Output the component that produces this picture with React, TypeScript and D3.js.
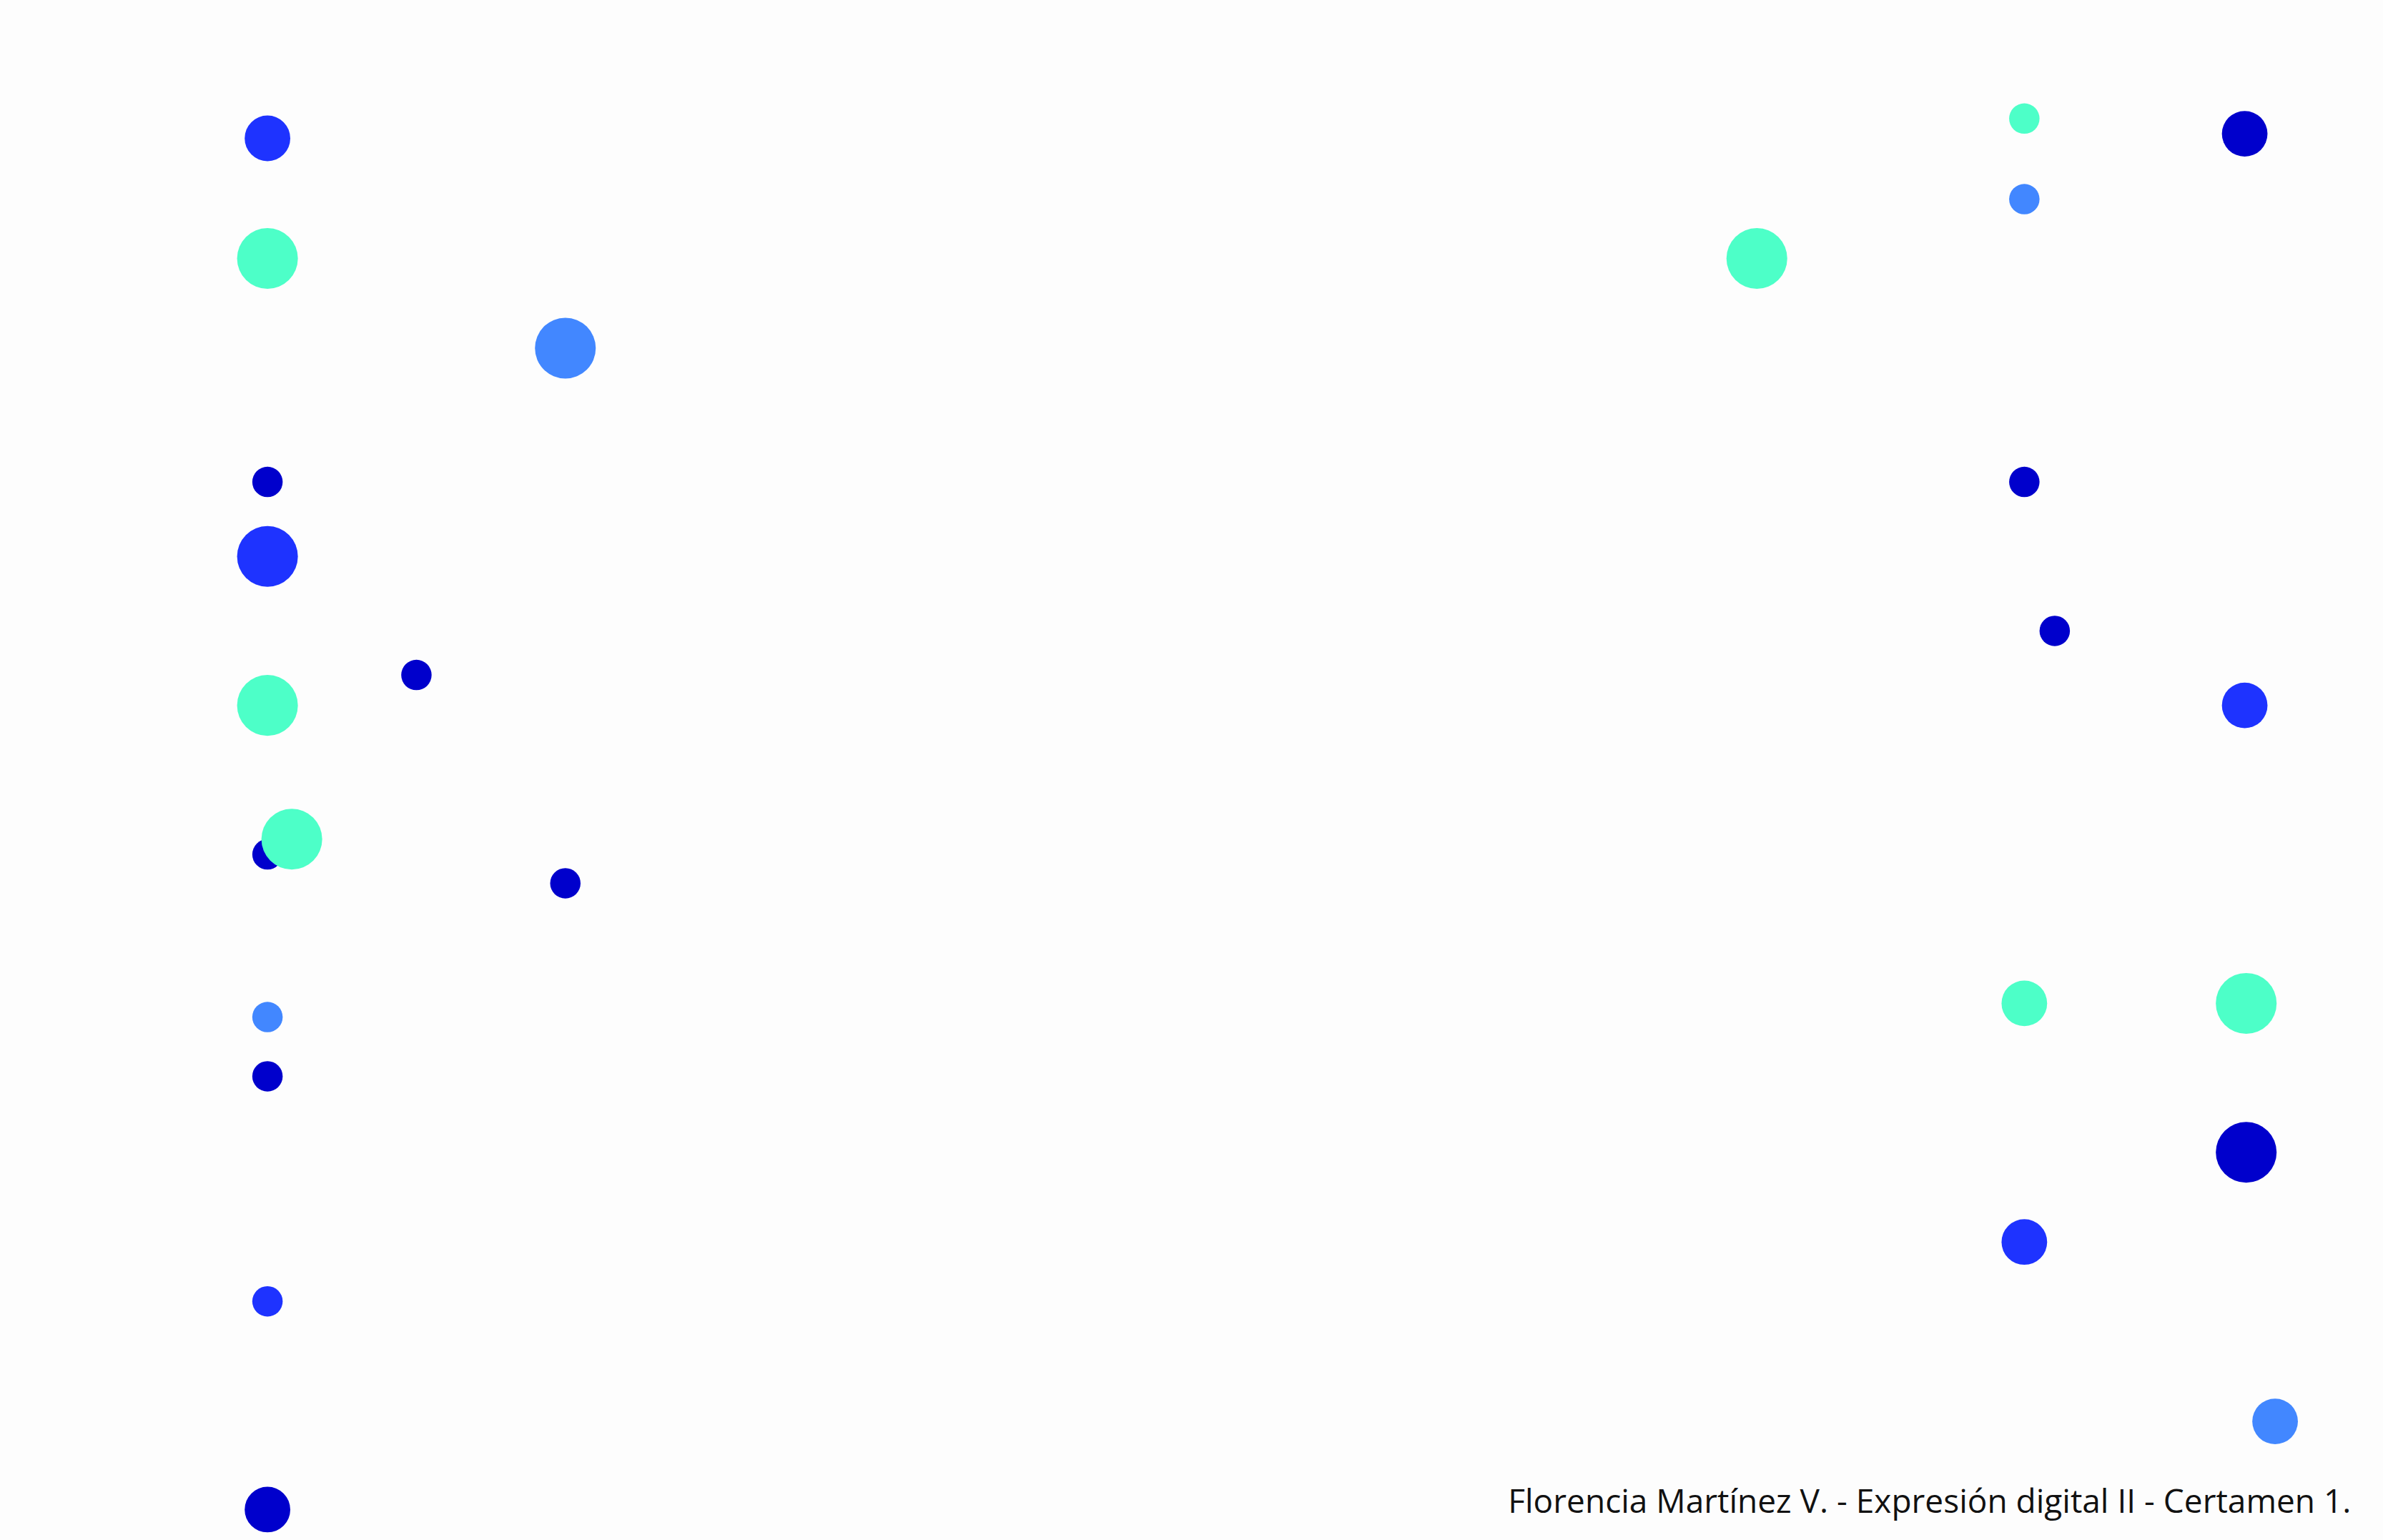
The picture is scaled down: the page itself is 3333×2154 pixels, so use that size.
import React from 'react';
import * as d3 from 'd3';

const W = 3333;
const H = 2154;

// positions (in reference units, 0..1568 x 0..1013)
const xs = [176, 176, 372, 176, 176, 274, 176, 176, 192, 372, 176, 176, 176, 176,
  1156, 1332, 1332, 1332, 1352, 1477, 1477, 1332, 1478, 1478, 1332, 1497];
const ys = [91, 170, 229, 317, 366, 444, 464, 562, 552, 581, 669, 708, 856, 993,
  170, 78, 131, 317, 415, 88, 464, 660, 660, 758, 817, 935];
const sizes = [2, 3, 3, 1, 3, 1, 3, 1, 3, 1, 1, 1, 1, 2,
  3, 1, 1, 1, 1, 2, 2, 2, 3, 3, 2, 2];
const groups = ['mid', 'teal', 'light', 'dark', 'mid', 'dark', 'teal', 'dark', 'teal', 'dark', 'light', 'dark', 'mid', 'dark',
  'teal', 'teal', 'light', 'dark', 'dark', 'dark', 'mid', 'teal', 'teal', 'dark', 'mid', 'light'];
const groupNames = ['dark', 'mid', 'light', 'teal'];
const groupColors = ['#0000cc', '#1e33ff', '#4287ff', '#4dffc8'];

const caption = 'Florencia Martínez V.  - Expresión digital II  -  Certamen 1.';

export default function App() {
  const x = d3.scaleLinear().domain([0, 1568]).range([0, W]);
  const y = d3.scaleLinear().domain([0, 1013]).range([0, H]);
  const r = d3.scaleLinear().domain([1, 3]).range([10 * 2.126, 20 * 2.126]);
  const color = d3.scaleOrdinal<string, string>().domain(groupNames).range(groupColors);

  return (
    <svg width={W} height={H} style={{ position: 'absolute', left: 0, top: 0 }}>
      <rect width={W} height={H} fill="#fdfdfd" />
      {xs.map((_, i) => (
        <circle key={i} cx={x(xs[i])} cy={y(ys[i])} r={r(sizes[i])} fill={color(groups[i])} />
      ))}
      <text x={x(1547)} y={y(995)} textAnchor="end" fontFamily="'Open Sans', sans-serif"
        fontSize={46} fill="#111">{caption}</text>
    </svg>
  );
}
